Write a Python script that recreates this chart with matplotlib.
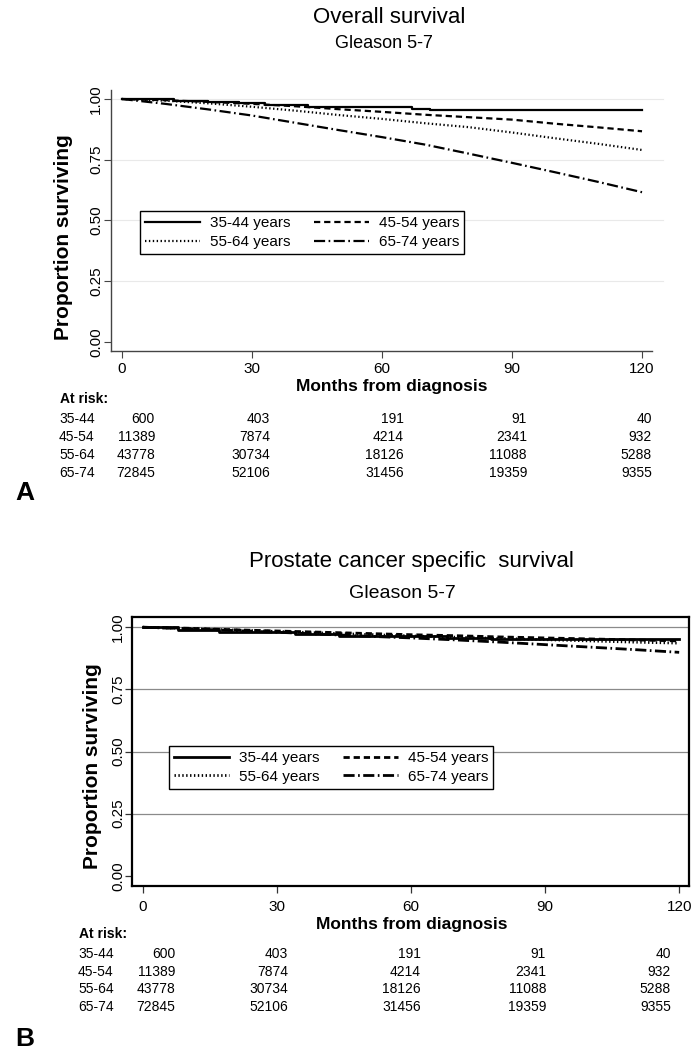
"""
Kaplan-Meier style survival curves by age group, Gleason 5-7.
Panel A: overall survival, panel B: prostate cancer specific survival.
Writes out.png
"""

import matplotlib
matplotlib.use("Agg")
import matplotlib.pyplot as plt
import matplotlib.transforms as mtransforms

plt.rcParams["font.family"] = ["Liberation Sans", "DejaVu Sans"]
plt.rcParams["lines.scale_dashes"] = False

# ── Data ──────────────────────────────────────────────────────────────────────
age_groups = ["35-44", "45-54", "55-64", "65-74"]
legend_labels = [g + " years" for g in age_groups]

risk_months = [0, 30, 60, 90, 120]
risk_35_44 = [600, 403, 191, 91, 40]
risk_45_54 = [11389, 7874, 4214, 2341, 932]
risk_55_64 = [43778, 30734, 18126, 11088, 5288]
risk_65_74 = [72845, 52106, 31456, 19359, 9355]

y_ticks = [0.0, 0.25, 0.50, 0.75, 1.00]

# panel A - overall survival
os_months_young = [0, 5, 12, 20, 27, 33, 43, 52, 67, 71, 120]
os_35_44 = [1.0, 0.998, 0.993, 0.988, 0.983, 0.976, 0.967, 0.965, 0.958, 0.955, 0.955]
os_months = [0, 10, 20, 30, 40, 50, 60, 70, 80, 90, 100, 110, 120]
os_45_54 = [1.0, 0.995, 0.988, 0.980, 0.970, 0.958, 0.947, 0.935, 0.925, 0.915, 0.898, 0.883, 0.867]
os_55_64 = [1.0, 0.993, 0.982, 0.968, 0.952, 0.934, 0.918, 0.900, 0.884, 0.862, 0.838, 0.815, 0.790]
os_65_74 = [1.0, 0.980, 0.957, 0.932, 0.902, 0.872, 0.843, 0.812, 0.775, 0.737, 0.698, 0.658, 0.616]

# panel B - prostate cancer specific survival
pcss_months_young = [0, 8, 17, 34, 44, 68, 78, 120]
pcss_35_44 = [1.0, 0.990, 0.982, 0.972, 0.965, 0.958, 0.952, 0.952]
pcss_months = [0, 10, 20, 30, 40, 50, 60, 70, 80, 90, 100, 110, 120]
pcss_45_54 = [1.0, 0.996, 0.990, 0.985, 0.980, 0.975, 0.970, 0.966, 0.961, 0.957, 0.953, 0.949, 0.945]
pcss_55_64 = [1.0, 0.995, 0.989, 0.983, 0.977, 0.971, 0.965, 0.960, 0.955, 0.950, 0.945, 0.940, 0.936]
pcss_65_74 = [1.0, 0.994, 0.987, 0.980, 0.972, 0.964, 0.957, 0.949, 0.940, 0.930, 0.920, 0.910, 0.899]

# ── Layout helpers (pixels from top-left of a 697x1050 canvas) ────────────────
W, H = 697, 1050
fig = plt.figure(figsize=(W / 100, H / 100), dpi=100)
fig.patch.set_facecolor("white")


def fx(px):
    return px / W


def fy(py):
    return 1 - py / H


def put(x, y, s, size, ha="left", weight="normal"):
    """y = vertical centre of the capitals/digits, in pixels."""
    base = y + 0.36 * size / 0.72
    fig.text(fx(x), fy(base), s, fontsize=size, ha=ha, va="baseline",
             fontweight=weight, color="black")


STYLES = {
    "35-44": dict(linestyle="-"),
    "45-54": dict(linestyle=(0, (4.5, 2.8))),
    "55-64": dict(linestyle=(0, (1.0, 1.8))),
    "65-74": dict(linestyle=(0, (8, 2.5, 1.2, 2.5))),
}


def draw_panel(ax, series, lw, legend_box, fontsize_leg):
    lines = {}
    for grp, (t, s, step) in zip(age_groups, series):
        ln, = ax.plot(t, s, color="black", lw=lw,
                      drawstyle="steps-post" if step else "default",
                      **STYLES[grp])
        lines[grp] = ln
    order = ["35-44", "55-64", "45-54", "65-74"]
    leg = ax.legend([lines[g] for g in order],
                    [g + " years" for g in order],
                    ncol=2, loc="upper left",
                    bbox_to_anchor=(fx(legend_box[0]), fy(legend_box[1])),
                    bbox_transform=fig.transFigure, borderaxespad=0,
                    frameon=True, fancybox=False, framealpha=1,
                    edgecolor="black", fontsize=fontsize_leg,
                    handlelength=3.6, handletextpad=0.6,
                    columnspacing=1.6, labelspacing=0.3, borderpad=0.35)
    leg.get_frame().set_linewidth(1.0)
    ax.set_xticks(risk_months)
    ax.set_yticks(y_ticks)
    ax.set_yticklabels([f"{v:.2f}" for v in y_ticks], rotation=90, va="center")
    shift = mtransforms.ScaledTranslation(-3.5 / 100, 0, fig.dpi_scale_trans)
    for lab in ax.get_xticklabels():
        lab.set_transform(lab.get_transform() + shift)


def risk_table(x_label, x_cols, y_head, y_rows):
    put(x_label + 1, y_head, "At risk:", 10, weight="bold")
    rows = [risk_35_44, risk_45_54, risk_55_64, risk_65_74]
    for grp, vals, y in zip(age_groups, rows, y_rows):
        put(x_label, y, grp, 10)
        for xc, v in zip(x_cols, vals):
            put(xc, y, str(v), 10, ha="right")


# ── Panel A ───────────────────────────────────────────────────────────────────
axA = fig.add_axes([fx(111), fy(351), (652 - 111) / W, (351 - 90) / H])
axA.set_xlim(-2.47, 122.3)
axA.set_ylim(-0.038, 1.037)
for yv in y_ticks[1:]:
    axA.plot([0, 1.0203], [yv, yv], transform=axA.get_yaxis_transform(),
             color="#e9e9e9", lw=0.8, zorder=0, clip_on=False)
draw_panel(axA, [(os_months_young, os_35_44, True),
                 (os_months, os_45_54, False),
                 (os_months, os_55_64, False),
                 (os_months, os_65_74, False)], 1.6, (140, 211), 11)
axA.spines["top"].set_visible(False)
axA.spines["right"].set_visible(False)
for sp in ("left", "bottom"):
    axA.spines[sp].set_color("#444444")
    axA.spines[sp].set_linewidth(1.0)
axA.tick_params(axis="both", direction="out", length=5, width=0.8,
                color="#444444", labelsize=11, labelcolor="black")
axA.tick_params(axis="x", pad=3)
axA.tick_params(axis="y", pad=0.6)

fig.text(fx(389), fy(22.7), "Overall survival", fontsize=16, ha="center",
         va="baseline")
fig.text(fx(384), fy(48.3), "Gleason 5-7", fontsize=13, ha="center",
         va="baseline")
fig.text(fx(63.5), fy(237.5), "Proportion surviving", rotation=90,
         fontsize=15, fontweight="bold", ha="center", va="center")
fig.text(fx(392), fy(387), "Months from diagnosis", fontsize=12.5,
         fontweight="bold", ha="center", va="center")
risk_table(59, [155, 270, 404, 527, 652], 398, [418, 436, 454, 472])
put(15, 490, "A", 19, weight="bold")

# ── Panel B ───────────────────────────────────────────────────────────────────
axB = fig.add_axes([fx(132.3), fy(885.7), (689 - 132.3) / W, (885.7 - 617.3) / H])
axB.set_xlim(-2.33, 122.2)
axB.set_ylim(-0.040, 1.040)
for yv in y_ticks[1:]:
    axB.axhline(yv, color="#8a8a8a", lw=0.9, zorder=0)
draw_panel(axB, [(pcss_months_young, pcss_35_44, True),
                 (pcss_months, pcss_45_54, False),
                 (pcss_months, pcss_55_64, False),
                 (pcss_months, pcss_65_74, False)], 2.0, (169, 745.7), 11)
for sp in axB.spines.values():
    sp.set_color("black")
    sp.set_linewidth(1.6)
axB.tick_params(axis="both", direction="out", length=5, width=0.9,
                color="#333333", labelsize=11, labelcolor="black")
axB.tick_params(axis="x", pad=5.5)
axB.tick_params(axis="y", pad=0)

fig.text(fx(411.6), fy(566.7), "Prostate cancer specific  survival",
         fontsize=16, ha="center", va="baseline")
fig.text(fx(402), fy(598.3), "Gleason 5-7", fontsize=14, ha="center",
         va="baseline")
fig.text(fx(92.5), fy(766), "Proportion surviving", rotation=90,
         fontsize=15, fontweight="bold", ha="center", va="center")
fig.text(fx(411.7), fy(925), "Months from diagnosis", fontsize=12.5,
         fontweight="bold", ha="center", va="center")
risk_table(78, [175, 288, 421, 546, 671], 933.3,
           [953.3, 970.7, 988.3, 1005.7])
put(15.6, 1036.7, "B", 19, weight="bold")

fig.savefig("out.png", dpi=100)
